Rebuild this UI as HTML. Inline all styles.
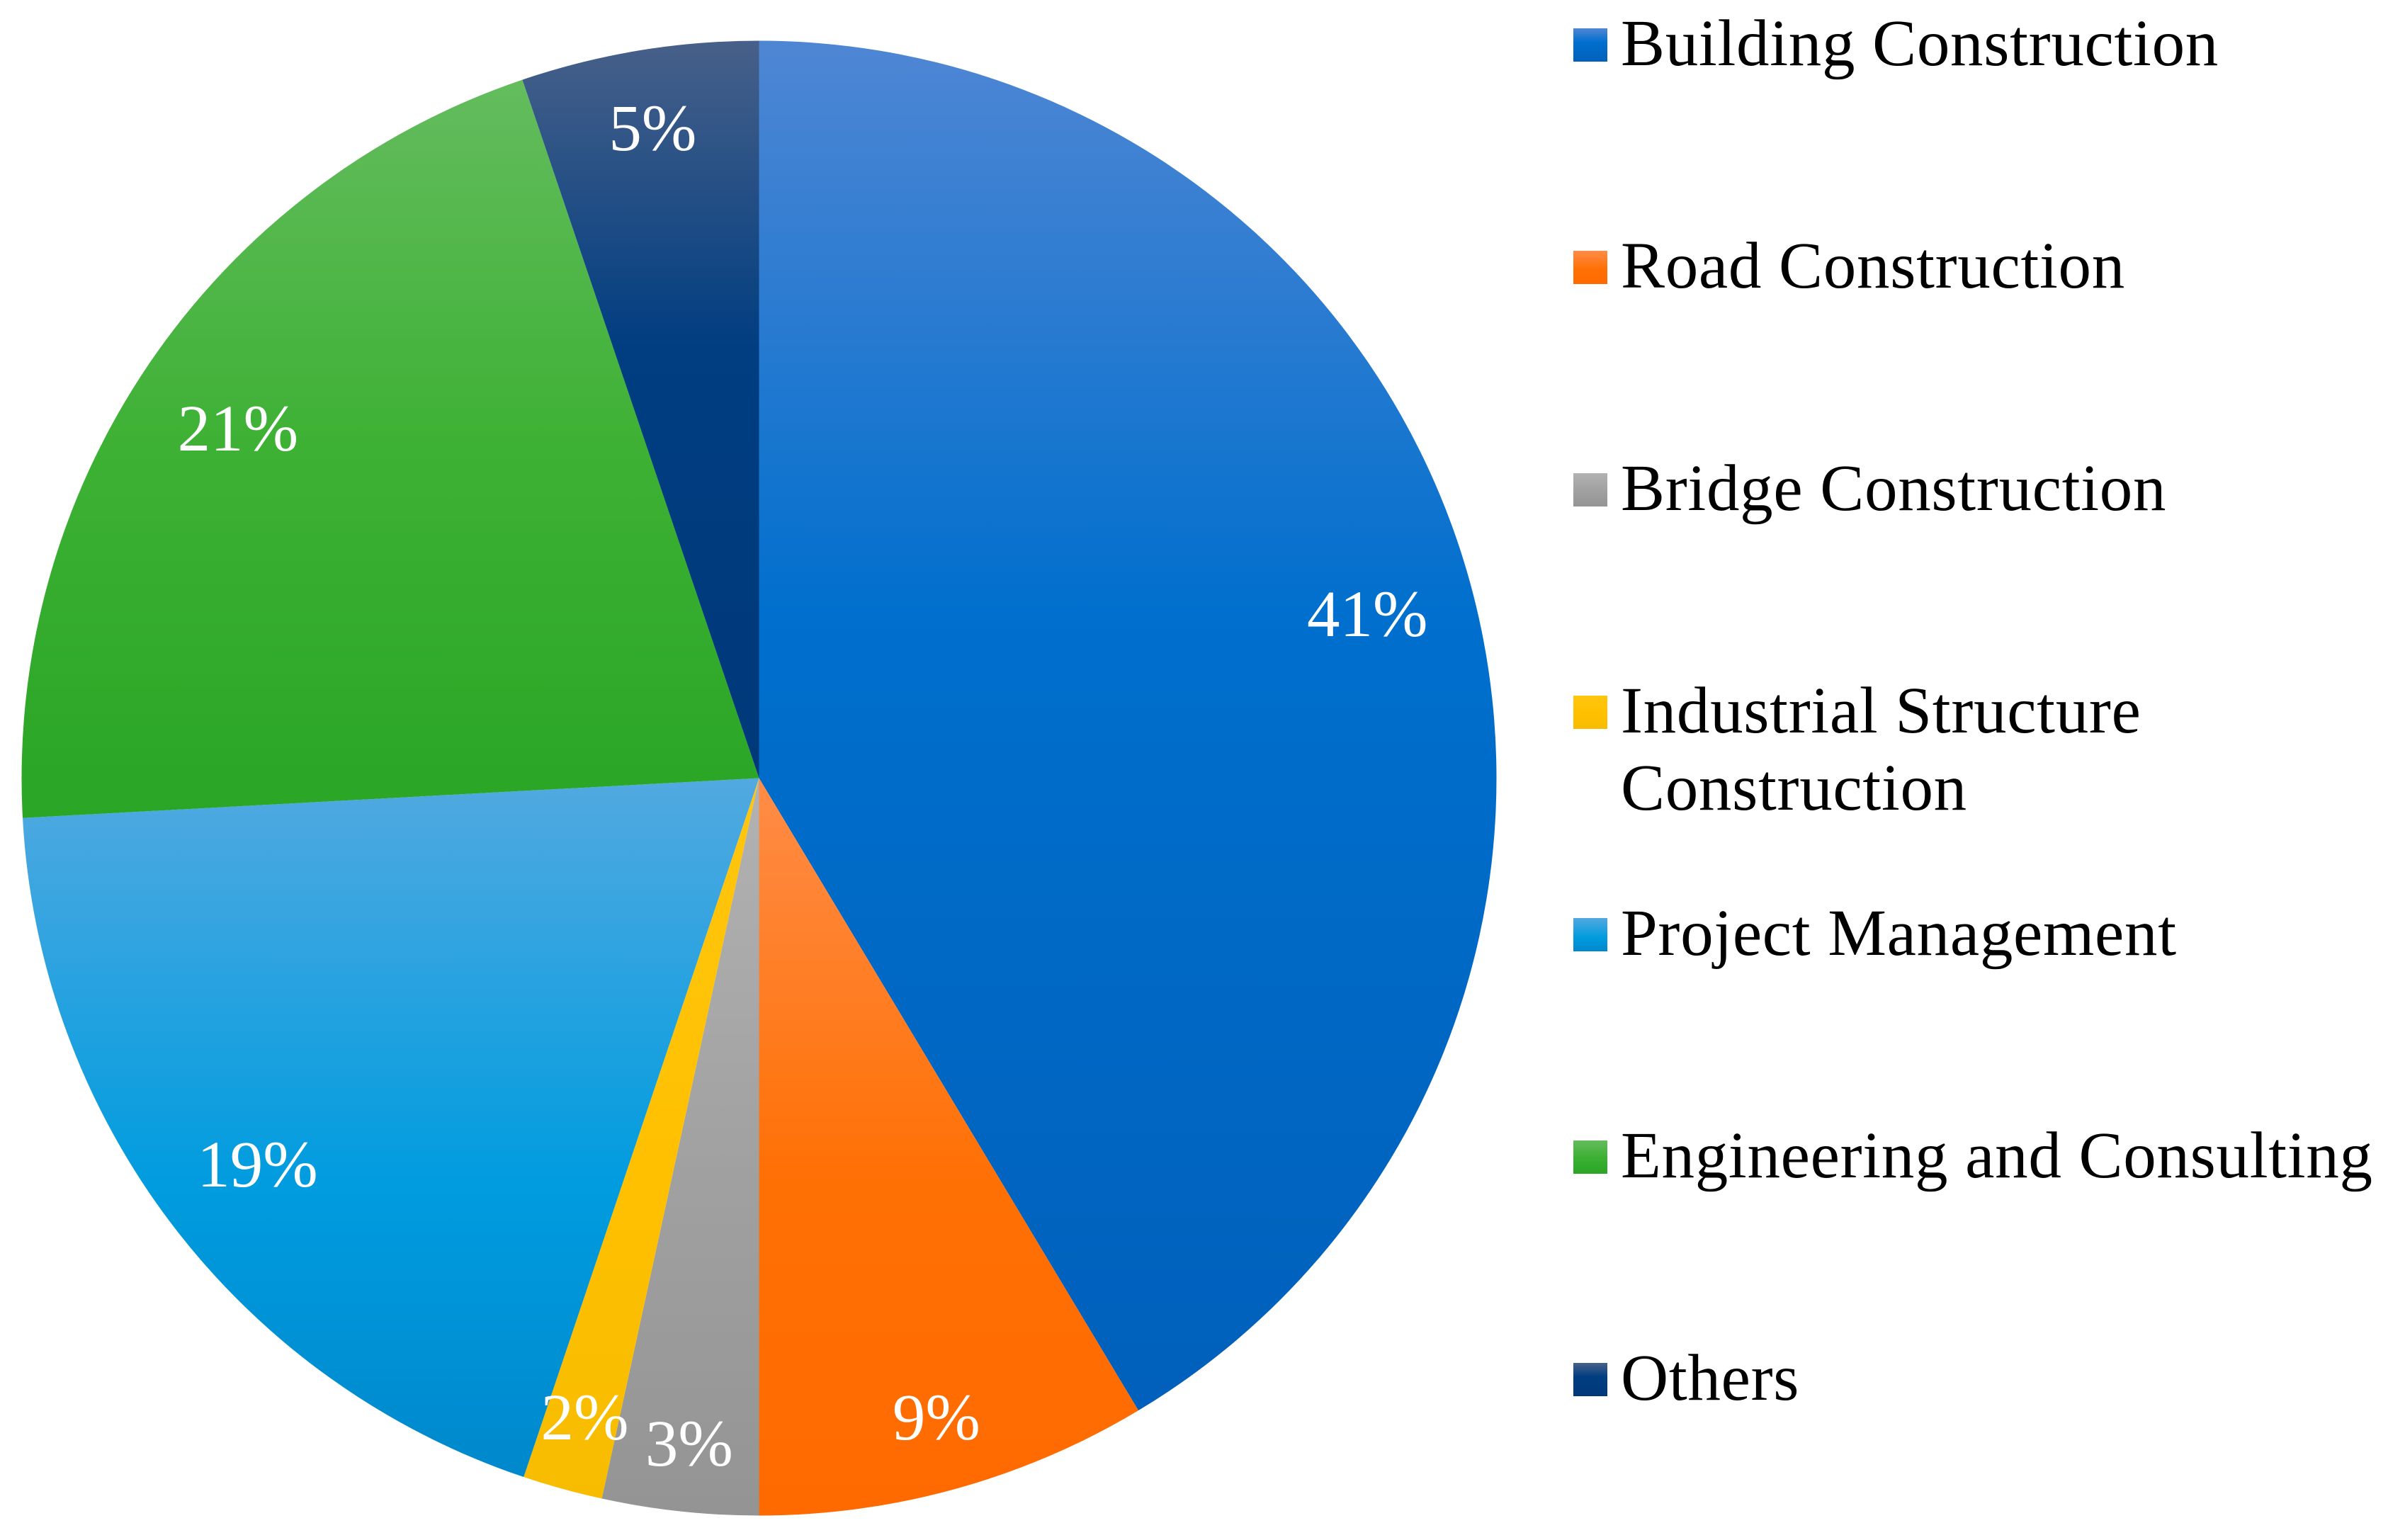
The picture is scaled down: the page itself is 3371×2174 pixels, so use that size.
<!DOCTYPE html>
<html lang="en">
<head>
<meta charset="utf-8">
<title>Pie chart of construction sectors</title>
<style>
  html, body { margin: 0; padding: 0; background: #ffffff; }
  body { width: 3371px; height: 2174px; overflow: hidden; }
  svg { display: block; }
  text { font-family: "Liberation Serif", serif; }
</style>
</head>
<body>
<svg id="chart" xmlns="http://www.w3.org/2000/svg" width="3371" height="2174" viewBox="0 0 3371 2174">
  <defs>
    <linearGradient id="grad-0" x1="0" y1="0" x2="0" y2="1"><stop offset="0" stop-color="#4f86d4"/><stop offset="0.42" stop-color="#006fcd"/><stop offset="1" stop-color="#0060bb"/></linearGradient>
    <linearGradient id="grad-1" x1="0" y1="0" x2="0" y2="1"><stop offset="0" stop-color="#ff8c47"/><stop offset="0.55" stop-color="#ff7004"/><stop offset="1" stop-color="#ff6a00"/></linearGradient>
    <linearGradient id="grad-2" x1="0" y1="0" x2="0" y2="1"><stop offset="0" stop-color="#b2b2b2"/><stop offset="0.55" stop-color="#a0a0a0"/><stop offset="1" stop-color="#949494"/></linearGradient>
    <linearGradient id="grad-3" x1="0" y1="0" x2="0" y2="1"><stop offset="0" stop-color="#ffc60f"/><stop offset="0.55" stop-color="#ffc000"/><stop offset="1" stop-color="#f7bc00"/></linearGradient>
    <linearGradient id="grad-4" x1="0" y1="0" x2="0" y2="1"><stop offset="0" stop-color="#52a9e0"/><stop offset="0.58" stop-color="#009cdf"/><stop offset="1" stop-color="#0088cc"/></linearGradient>
    <linearGradient id="grad-5" x1="0" y1="0" x2="0" y2="1"><stop offset="0" stop-color="#64bc5e"/><stop offset="0.5" stop-color="#3db134"/><stop offset="1" stop-color="#2aa525"/></linearGradient>
    <linearGradient id="grad-6" x1="0" y1="0" x2="0" y2="1"><stop offset="0" stop-color="#476089"/><stop offset="0.42" stop-color="#003d81"/><stop offset="1" stop-color="#00397a"/></linearGradient>
  </defs>
  <g id="slices"></g>
  <g id="labels"></g>
  <g id="legend"></g>
</svg>
<script>
var categories = ["Building Construction", "Road Construction", "Bridge Construction", "Industrial Structure Construction", "Project Management", "Engineering and Consulting", "Others"];
var legendLines = [["Building Construction"], ["Road Construction"], ["Bridge Construction"], ["Industrial Structure", "Construction"], ["Project Management"], ["Engineering and Consulting"], ["Others"]];
var values = [41.4, 8.6, 3.42, 1.75, 18.97, 20.66, 5.2];
var printedValues = ["41%", "9%", "3%", "2%", "19%", "21%", "5%"];

var SVG_NS = "http://www.w3.org/2000/svg";
var CX = 1071.5, CY = 1098.5, R = 1041;
var LABEL_FIT_R = 980, LABEL_HALF_H = 33, LABEL_BASE_OFFSET = 37, LABEL_SHIFT_X = 2, FONT = 93;
var total = values.reduce(function (a, b) { return a + b; }, 0);

function angleOf(v) { return v / total * Math.PI * 2; }
function px(a, r) { return CX + r * Math.sin(a); }
function py(a, r) { return CY - r * Math.cos(a); }

function slicePath(a0, a1) {
  var large = (a1 - a0) > Math.PI ? 1 : 0;
  return "M" + CX + " " + CY + "L" + px(a0, R) + " " + py(a0, R) +
    "A" + R + " " + R + " 0 " + large + " 1 " + px(a1, R) + " " + py(a1, R) + "Z";
}

/* push a label outward along its mid-angle until its box corner meets the fit circle */
function labelRadius(a, halfW) {
  var lo = 0, hi = R;
  for (var k = 0; k < 40; k++) {
    var r = (lo + hi) / 2;
    var dx = Math.abs(r * Math.sin(a)) + halfW;
    var dy = Math.abs(r * Math.cos(a)) + LABEL_HALF_H;
    if (Math.sqrt(dx * dx + dy * dy) > LABEL_FIT_R) { hi = r; } else { lo = r; }
  }
  return lo;
}

var sliceGroup = document.getElementById("slices");
var labelGroup = document.getElementById("labels");
var legendGroup = document.getElementById("legend");

var cumulative = 0;
values.forEach(function (v, i) {
  var a0 = angleOf(cumulative);
  cumulative += v;
  var a1 = angleOf(cumulative);
  var path = document.createElementNS(SVG_NS, "path");
  path.setAttribute("d", slicePath(a0, a1));
  path.setAttribute("fill", "url(#grad-" + i + ")");
  
  
  sliceGroup.appendChild(path);
});

cumulative = 0;
values.forEach(function (v, i) {
  var mid = angleOf(cumulative + v / 2);
  cumulative += v;
  var t = document.createElementNS(SVG_NS, "text");
  t.textContent = printedValues[i];
  t.setAttribute("font-size", FONT);
  t.setAttribute("fill", "#ffffff");
  t.setAttribute("text-anchor", "middle");
  
  
  labelGroup.appendChild(t);
  var r = labelRadius(mid, t.getComputedTextLength() / 2);
  t.setAttribute("x", px(mid, r) + LABEL_SHIFT_X);
  t.setAttribute("y", py(mid, r) + LABEL_BASE_OFFSET);
});

var LEGEND_TOP = 40, LEGEND_STEP = 314, SWATCH_X = 2221, SWATCH_W = 48, SWATCH_H = 47;
var TEXT_X = 2288, TEXT_BASE = 52, LINE_STEP = 109;
categories.forEach(function (name, i) {
  var y = LEGEND_TOP + i * LEGEND_STEP;
  var g = document.createElementNS(SVG_NS, "g");
  
  
  var rect = document.createElementNS(SVG_NS, "rect");
  rect.setAttribute("x", SWATCH_X);
  rect.setAttribute("y", y);
  rect.setAttribute("width", SWATCH_W);
  rect.setAttribute("height", SWATCH_H);
  rect.setAttribute("fill", "url(#grad-" + i + ")");
  
  
  g.appendChild(rect);
  legendLines[i].forEach(function (line, n) {
    var t = document.createElementNS(SVG_NS, "text");
    t.textContent = line;
    t.setAttribute("x", TEXT_X);
    t.setAttribute("y", y + TEXT_BASE + n * LINE_STEP);
    t.setAttribute("font-size", FONT);
    t.setAttribute("letter-spacing", "0.7");
    t.setAttribute("fill", "#000000");
    
    
    g.appendChild(t);
  });
  legendGroup.appendChild(g);
});
</script>
</body>
</html>
